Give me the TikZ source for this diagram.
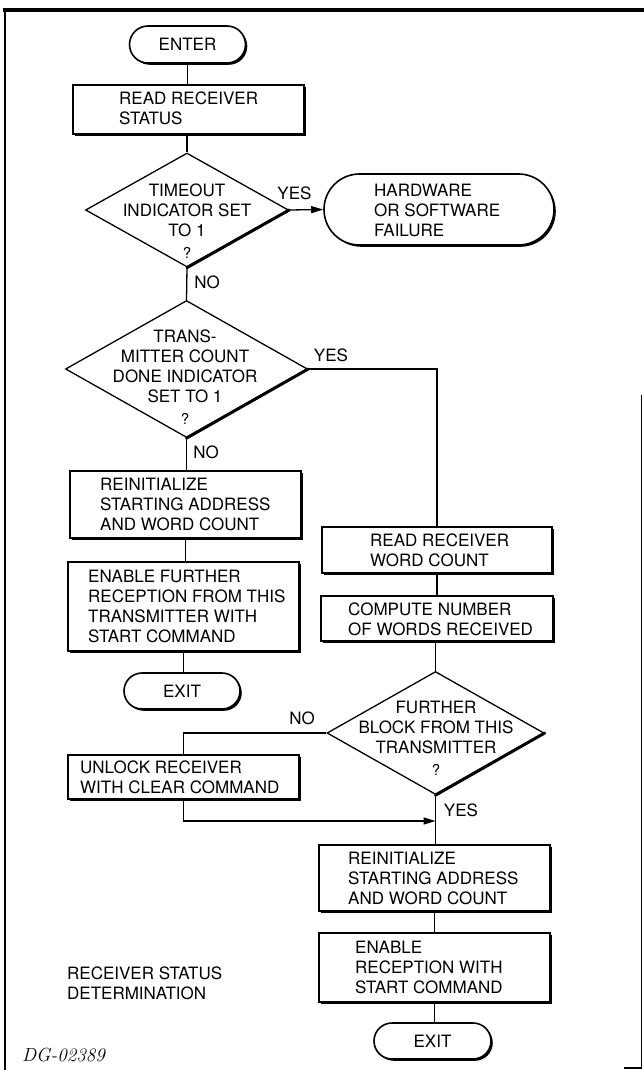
\documentclass[tikz,border=0pt]{standalone}
\usepackage{fontspec}
\setsansfont{TeX Gyre Heros}
\usetikzlibrary{shapes.geometric,shapes.misc,shadows,arrows.meta}
\newcommand\fcfont{\sffamily\fontsize{17pt}{20pt}\selectfont}
\newcommand\qfont{\fontsize{15pt}{15pt}\selectfont}
\begin{document}
\begin{tikzpicture}[x=1pt,y=-1pt,
  shad/.style={drop shadow={shadow xshift=1.8pt,shadow yshift=-1.8pt,fill=black,opacity=1}},
  proc/.style={draw,line width=1.6pt,fill=white,rectangle,inner sep=0pt,shad},
  term/.style={draw,line width=1.6pt,fill=white,rounded rectangle,inner sep=0pt,shad,font=\fcfont},
  dec/.style={draw,line width=1.3pt,fill=white,diamond,inner sep=0pt},
  decedge/.style={line width=3pt,line cap=round},
  txt/.style={font=\fcfont,align=left,inner sep=0pt,anchor=west},
  ctxt/.style={font=\fcfont,align=center,inner sep=0pt},
  lab/.style={font=\fcfont,inner sep=0pt},
  conn/.style={line width=1.3pt},
  arr/.style={conn,-{Triangle[length=12pt,width=7pt]}},
  frame/.style={line cap=rect}
]
\useasboundingbox (0,0) rectangle (643,1070);

% frame
\draw[frame,line width=4pt] (5,10) -- (643,10);
\draw[line width=2pt] (5,8) -- (5,1070);
\draw[line width=1.5pt] (641.5,395) -- (641.5,1068) -- (624,1068);

% left column
\node[term,minimum width=116pt,minimum height=37pt] (enter) at (187.5,44.5) {ENTER};
\node[proc,minimum width=231pt,minimum height=49pt] (b1) at (188.5,109.5) {};
\node[txt] (b1t) at (119,108) {READ RECEIVER\\STATUS};

\node[dec,minimum width=203pt,minimum height=114pt] (d1) at (187,210) {};
\draw[decedge] (d1.east) -- (d1.south);
\node[ctxt] (d1t) at (187,221) {TIMEOUT\\INDICATOR SET\\TO 1\\[2pt]{\qfont ?}};

\node[term,minimum width=230pt,minimum height=71pt] (hw) at (439,209.5) {};
\node[txt] (hwt) at (374,210) {HARDWARE\\OR SOFTWARE\\FAILURE};

\node[dec,minimum width=242pt,minimum height=137pt] (d2) at (186.5,369) {};
\draw[decedge] (d2.east) -- (d2.south);
\node[ctxt] (d2t) at (185,377) {TRANS-\\MITTER COUNT\\DONE INDICATOR\\SET TO 1\\[2pt]{\qfont ?}};

\node[proc,minimum width=231pt,minimum height=67pt] (r1) at (185.5,504.5) {};
\node[txt] (r1t) at (100,504.5) {REINITIALIZE\\STARTING ADDRESS\\AND WORD COUNT};
\node[proc,minimum width=231pt,minimum height=89pt] (e1) at (183.5,606.5) {};
\node[txt] (e1t) at (88,606) {ENABLE FURTHER\\RECEPTION FROM THIS\\TRANSMITTER WITH\\START COMMAND};
\node[term,minimum width=116pt,minimum height=36pt] (x1) at (182,691) {EXIT};

% right column
\node[proc,minimum width=230pt,minimum height=46pt] (rw) at (437,550) {};
\node[txt] (rwt) at (370,550) {READ RECEIVER\\WORD COUNT};
\node[proc,minimum width=232pt,minimum height=45pt] (cn) at (437,618.5) {};
\node[txt] (cnt) at (348,619) {COMPUTE NUMBER\\OF WORDS RECEIVED};

\node[dec,minimum width=217pt,minimum height=123pt] (d3) at (435.5,733) {};
\draw[decedge] (d3.east) -- (d3.south);
\node[ctxt] (d3t) at (436,738) {FURTHER\\BLOCK FROM THIS\\TRANSMITTER\\[2pt]{\qfont ?}};

\node[proc,minimum width=231pt,minimum height=44pt] (ul) at (183.5,777) {};
\node[txt] (ult) at (80,777) {UNLOCK RECEIVER\\WITH CLEAR COMMAND};

\node[proc,minimum width=231pt,minimum height=66pt] (r2) at (434.5,878) {};
\node[txt] (r2t) at (348,878) {REINITIALIZE\\STARTING ADDRESS\\AND WORD COUNT};
\node[proc,minimum width=231pt,minimum height=69pt] (e2) at (434.5,967.5) {};
\node[txt] (e2t) at (355,967.5) {ENABLE\\RECEPTION WITH\\START COMMAND};
\node[term,minimum width=117pt,minimum height=36pt] (x2) at (432.5,1041) {EXIT};

\node[txt] (cap) at (67,983.5) {RECEIVER STATUS\\DETERMINATION};
\node[anchor=west,inner sep=0pt,font=\rmfamily\itshape\fontsize{19pt}{22pt}\selectfont] (dg) at (22,1055) {DG-02389};

% labels
\node[lab] (yes1) at (294.5,193) {YES};
\node[lab] (no1) at (207,282) {NO};
\node[lab] (yes2) at (331,355) {YES};
\node[lab] (no2) at (206,452) {NO};
\node[lab] (no3) at (302,718) {NO};
\node[lab] (yes3) at (461,810) {YES};

% connectors
\draw[conn] (enter.south) -- (enter.south |- b1.north);
\draw[conn] (d1.north |- b1.south) -- (d1.north);
\draw[arr] (d1.east) -- (hw.west);
\draw[conn] (d1.south) -- (d2.north);
\draw[conn] (d2.south) -- (d2.south |- r1.north);
\draw[conn] (r1.south) -- (r1.south |- e1.north);
\draw[conn] (e1.south) -- (e1.south |- x1.north);
\draw[conn] (d2.east) -| (rw.north);
\draw[conn] (rw.south) -- (rw.south |- cn.north);
\draw[conn] (d3.north |- cn.south) -- (d3.north);
\draw[conn] (d3.west) -| (ul.north);
\draw[conn] (d3.south) -- (d3.south |- r2.north);
\path (0,821) coordinate (yj);
\coordinate (j) at (d3.south |- yj);
\draw[arr] (ul.south) |- (j);
\draw[conn] (r2.south) -- (r2.south |- e2.north);
\draw[conn] (e2.south) -- (e2.south |- x2.north);
\end{tikzpicture}
\end{document}
